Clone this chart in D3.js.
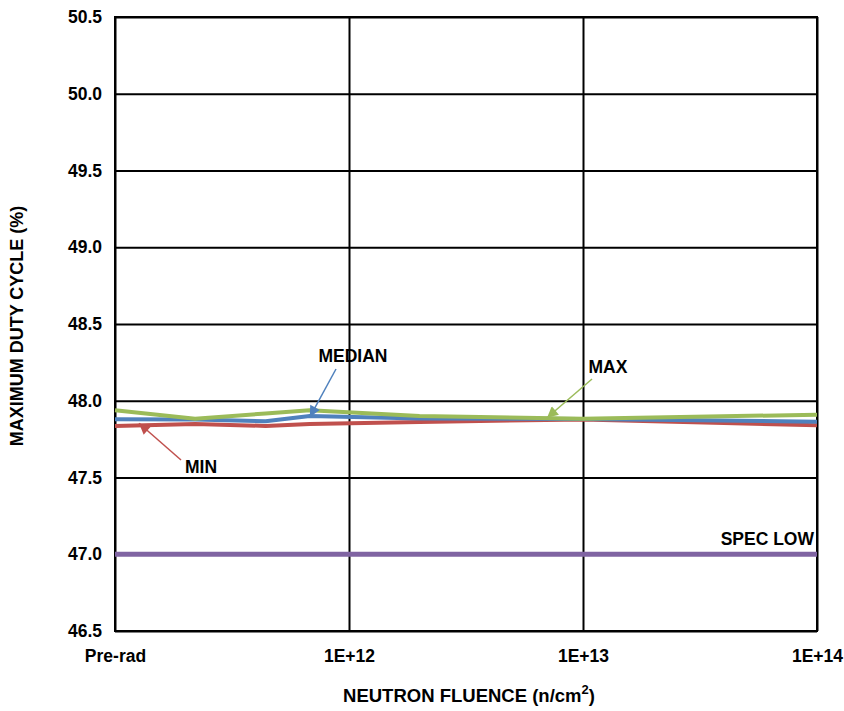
<!DOCTYPE html>
<html>
<head>
<meta charset="utf-8">
<script src="https://cdn.jsdelivr.net/npm/d3@7"></script>
<style>
  html, body { margin: 0; padding: 0; background: #fff; }
  svg { display: block; }
  text { font-family: "Liberation Sans", Arial, sans-serif; font-weight: bold; fill: #000; }
</style>
</head>
<body>
<svg id="chart" width="844" height="711"></svg>
<script>
// ---- data ----
const fluence = [1e11, 2.2e11, 4.4e11, 6.8e11, 2e12, 1e13, 1e14]; // 1e11 = Pre-rad position
const minVals = [47.836, 47.849, 47.836, 47.849, 47.862, 47.878, 47.840];
const medianVals = [47.879, 47.878, 47.866, 47.900, 47.884, 47.881, 47.864];
const maxVals = [47.938, 47.883, 47.917, 47.938, 47.900, 47.883, 47.909];
const specLow = 47.0;
const xTickValues = [1e11, 1e12, 1e13, 1e14];
const xTickLabels = ["Pre-rad", "1E+12", "1E+13", "1E+14"];
const yTickValues = [46.5, 47.0, 47.5, 48.0, 48.5, 49.0, 49.5, 50.0, 50.5];

// ---- layout ----
const svg = d3.select("#chart");
const L = 115, R = 817, T = 17, B = 631;
const x = d3.scaleLog().domain([1e11, 1e14]).range([L, R]);
const y = d3.scaleLinear().domain([46.5, 50.5]).range([B, T]);

// horizontal gridlines
const gy = svg.append("g").attr("transform", `translate(${L},0)`)
  .call(d3.axisLeft(y).tickValues(yTickValues).tickSize(-(R - L)).tickFormat(d3.format(".1f")).tickPadding(13));
gy.select(".domain").remove();
gy.selectAll(".tick line").attr("stroke", "#000").attr("stroke-width", 2);
gy.selectAll(".tick text").style("font-size", "17.5px");

// vertical gridlines
const gx = svg.append("g").attr("transform", `translate(0,${B})`)
  .call(d3.axisBottom(x).tickValues(xTickValues).tickSize(-(B - T))
    .tickFormat((d, i) => xTickLabels[i]).tickPadding(19));
gx.select(".domain").remove();
gx.selectAll(".tick line").attr("stroke", "#000").attr("stroke-width", 2);
gx.selectAll(".tick text").style("font-size", "17.5px");

// frame
svg.append("rect").attr("x", L).attr("y", T).attr("width", R - L).attr("height", B - T)
  .attr("fill", "none").attr("stroke", "#000").attr("stroke-width", 2);

// series lines
const line = d3.line().x((d, i) => x(fluence[i])).y(d => y(d));
const series = [
  { vals: minVals, color: "#C0504D" },
  { vals: medianVals, color: "#4F81BD" },
  { vals: maxVals, color: "#9BBB59" }
];
series.forEach(s => {
  svg.append("path").datum(s.vals).attr("d", line)
    .attr("fill", "none").attr("stroke", s.color).attr("stroke-width", 4)
    .attr("stroke-linejoin", "round");
});

// spec low
svg.append("line")
  .attr("x1", x(1e11)).attr("x2", x(1e14))
  .attr("y1", y(specLow)).attr("y2", y(specLow))
  .attr("stroke", "#8064A2").attr("stroke-width", 5);
svg.append("text").attr("x", 814).attr("y", y(specLow) - 9)
  .attr("text-anchor", "end").style("font-size", "17.5px").text("SPEC LOW");

// annotations
const defs = svg.append("defs");
function marker(id, color) {
  defs.append("marker").attr("id", id).attr("viewBox", "0 0 10 10")
    .attr("refX", 10).attr("refY", 5).attr("markerWidth", 13).attr("markerHeight", 11)
    .attr("markerUnits", "userSpaceOnUse").attr("orient", "auto")
    .append("path").attr("d", "M0,0 L10,5 L0,10 Z").attr("fill", color);
}
marker("mBlue", "#4F81BD");
marker("mRed", "#C0504D");
marker("mGreen", "#9BBB59");

const notes = [
  { label: "MEDIAN", lx: 353, ly: 362, from: [336, 369], to: [x(6.8e11), y(47.900) + 1], color: "#4F81BD", m: "mBlue" },
  { label: "MAX", lx: 608, ly: 373, from: [592, 379], to: [547, y(47.883) - 1], color: "#9BBB59", m: "mGreen" },
  { label: "MIN", lx: 201, ly: 473, from: [181, 460], to: [139, y(47.840) - 2], color: "#C0504D", m: "mRed" }
];
notes.forEach(n => {
  svg.append("line").attr("x1", n.from[0]).attr("y1", n.from[1])
    .attr("x2", n.to[0]).attr("y2", n.to[1])
    .attr("stroke", n.color).attr("stroke-width", 1.5).attr("marker-end", `url(#${n.m})`);
  svg.append("text").attr("x", n.lx).attr("y", n.ly).attr("text-anchor", "middle")
    .style("font-size", "17.5px").text(n.label);
});

// axis titles
const xt = svg.append("text").attr("x", 469).attr("y", 702).attr("text-anchor", "middle")
  .style("font-size", "18.5px");
xt.append("tspan").text("NEUTRON FLUENCE (n/cm");
xt.append("tspan").attr("dy", -8).style("font-size", "13px").text("2");
xt.append("tspan").attr("dy", 8).text(")");

svg.append("text").attr("transform", "translate(23,326) rotate(-90)")
  .attr("text-anchor", "middle").style("font-size", "18px").text("MAXIMUM DUTY CYCLE (%)");
</script>
</body>
</html>
